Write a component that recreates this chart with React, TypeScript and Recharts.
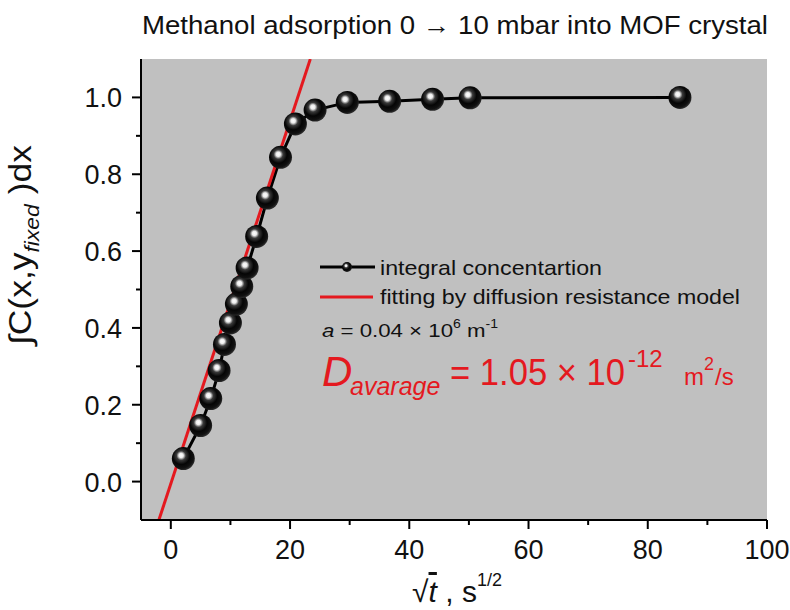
import React from "react";
import { ComposedChart, Line, XAxis, YAxis, CartesianGrid, Label } from "recharts";

if (typeof document !== "undefined") {
  document.body.style.margin = "0";
  document.body.style.overflow = "hidden";
}

// sqrt(t) in s^1/2 and the integral concentration
const sqrtT = [2.1, 5.0, 6.7, 8.1, 9.0, 10.0, 11.0, 11.9, 12.8, 14.4, 16.2, 18.4, 20.9, 24.2, 29.6, 36.7, 43.9, 50.2, 85.4];
const integral = [0.06, 0.146, 0.216, 0.289, 0.357, 0.413, 0.462, 0.508, 0.556, 0.638, 0.738, 0.844, 0.931, 0.967, 0.987, 0.99, 0.995, 0.999, 1.0];

// diffusion resistance model fit (straight line)
const fitX = [-2.0, 23.4];
const fitY = [-0.1, 1.1];

const xTicks = [0, 10, 20, 30, 40, 50, 60, 70, 80, 90, 100];
const yTicks = [0, 0.1, 0.2, 0.3, 0.4, 0.5, 0.6, 0.7, 0.8, 0.9, 1.0];

const points = sqrtT.map((x, i) => ({ x, y: integral[i] }));
const fit = fitX.map((x, i) => ({ x, y: fitY[i] }));

const FONT = "'Liberation Sans', Arial, sans-serif";
const RED = "#e4191f";

function makeTick(side: "bottom" | "top" | "left" | "right", label: boolean) {
  return (props: any) => {
    const { x, y, payload } = props;
    const v = payload.value;
    const horiz = side === "bottom" || side === "top";
    const major = horiz ? v % 20 === 0 : Math.round(v * 10) % 2 === 0;
    const len = major ? 9 : 5;
    let line;
    if (side === "bottom" || side === "top") line = <line x1={x} x2={x} y1={y} y2={y + len} />;
    else line = <line x1={x - len} x2={x} y1={y} y2={y} />;
    return (
      <g stroke="#000" strokeWidth={2}>
        {line}
        {label && major && side === "bottom" && (
          <text x={x} y={y + 39} textAnchor="middle" fontSize={27} fontFamily={FONT} fill="#111" stroke="none">
            {v}
          </text>
        )}
        {label && major && side === "left" && (
          <text x={x - 19} y={y + 10} textAnchor="end" fontSize={27} fontFamily={FONT} fill="#111" stroke="none">
            {v.toFixed(1)}
          </text>
        )}
      </g>
    );
  };
}

function Sphere(props: any) {
  const { cx, cy, index } = props;
  if (cx == null || cy == null) return null;
  return <circle key={index} cx={cx} cy={cy} r={11.5} fill="url(#sphere)" />;
}

function YTitle(props: any) {
  const vb = props.viewBox;
  const cx = vb.x + 31;
  const cy = 245;
  return (
    <text
      x={cx}
      y={cy}
      transform={`rotate(-90 ${cx} ${cy})`}
      textAnchor="middle"
      fontFamily={FONT}
      fontSize={31}
      fill="#111"
      textLength={200}
      lengthAdjust="spacingAndGlyphs"
    >
      ∫C(x,y
      <tspan fontSize={20} fontStyle="italic" dy={8}>fixed</tspan>
      <tspan dy={-8}> )dx</tspan>
    </text>
  );
}

function XTitle(props: any) {
  const vb = props.viewBox;
  const cx = vb.x + vb.width / 2 + 3;
  return (
    <text x={cx} y={602} textAnchor="middle" fontFamily={FONT} fontSize={30} fill="#111">
      √<tspan fontStyle="italic" style={{ textDecoration: "overline" }}>t</tspan>
      <tspan> , s</tspan>
      <tspan fontSize={18} dy={-16}>1/2</tspan>
    </text>
  );
}

export default function App() {
  return (
    <div style={{ position: "relative", width: 790, height: 610, background: "#fff" }}>
      <svg width={0} height={0} style={{ position: "absolute" }}>
        <defs>
          <radialGradient id="sphere" cx="0.42" cy="0.4" r="0.6" fx="0.4" fy="0.36">
            <stop offset="0%" stopColor="#ffffff" />
            <stop offset="16%" stopColor="#ececec" />
            <stop offset="34%" stopColor="#3a3a3a" />
            <stop offset="62%" stopColor="#050505" />
            <stop offset="88%" stopColor="#111111" />
            <stop offset="100%" stopColor="#2a2a2a" />
          </radialGradient>
        </defs>
      </svg>
      <ComposedChart width={790} height={610} margin={{ top: 59, right: 23, bottom: 0, left: 0 }}>
        <CartesianGrid horizontal={false} vertical={false} fill="#c0c0c0" />
        <XAxis
          xAxisId="b"
          type="number"
          dataKey="x"
          domain={[-5, 100]}
          ticks={xTicks}
          interval={0}
          allowDataOverflow
          height={90}
          tickSize={0}
          tickMargin={0}
          tickLine={false}
          tick={makeTick("bottom", true)}
          axisLine={{ stroke: "#000", strokeWidth: 2 }}
        >
          <Label content={<XTitle />} />
        </XAxis>
        <XAxis
          xAxisId="t"
          orientation="top"
          type="number"
          dataKey="x"
          domain={[-5, 100]}
          ticks={xTicks}
          interval={0}
          allowDataOverflow
          height={0}
          tickSize={0}
          tickMargin={0}
          tickLine={false}
          tick={makeTick("top", false)}
          axisLine={{ stroke: "#000", strokeWidth: 2 }}
        />
        <YAxis
          yAxisId="l"
          type="number"
          domain={[-0.1, 1.1]}
          ticks={yTicks}
          interval={0}
          allowDataOverflow
          width={141}
          tickSize={0}
          tickMargin={0}
          tickLine={false}
          tick={makeTick("left", true)}
          axisLine={{ stroke: "#000", strokeWidth: 2 }}
        >
          <Label content={<YTitle />} />
        </YAxis>
        <YAxis
          yAxisId="r"
          orientation="right"
          type="number"
          domain={[-0.1, 1.1]}
          ticks={yTicks}
          interval={0}
          allowDataOverflow
          width={0}
          tickSize={0}
          tickMargin={0}
          tickLine={false}
          tick={makeTick("right", false)}
          axisLine={{ stroke: "#000", strokeWidth: 2 }}
        />
        <Line
          xAxisId="b"
          yAxisId="l"
          data={points}
          dataKey="y"
          type="linear"
          stroke="#000"
          strokeWidth={3}
          dot={<Sphere />}
          activeDot={false}
          isAnimationActive={false}
        />
        <Line
          xAxisId="b"
          yAxisId="l"
          data={fit}
          dataKey="y"
          type="linear"
          stroke={RED}
          strokeWidth={3}
          dot={false}
          activeDot={false}
          isAnimationActive={false}
        />
      </ComposedChart>
      <svg
        width={790}
        height={610}
        style={{ position: "absolute", left: 0, top: 0, pointerEvents: "none" }}
        fontFamily={FONT}
      >
        <text x={142} y={34} fontSize={25} fill="#111" textLength={626} lengthAdjust="spacingAndGlyphs">
          Methanol adsorption 0 → 10 mbar into  MOF crystal
        </text>
        {/* legend */}
        <line x1={320} x2={375} y1={267} y2={267} stroke="#000" strokeWidth={3} />
        <circle cx={347} cy={267} r={5} fill="url(#sphere)" />
        <text x={380} y={275} fontSize={21} fill="#111" textLength={222} lengthAdjust="spacingAndGlyphs">
          integral concentartion
        </text>
        <line x1={320} x2={373} y1={297} y2={297} stroke={RED} strokeWidth={3} />
        <text x={380} y={304} fontSize={21} fill="#111" textLength={360} lengthAdjust="spacingAndGlyphs">
          fitting by diffusion resistance model
        </text>
        <text x={322} y={337} fontSize={19} fill="#111" textLength={176} lengthAdjust="spacingAndGlyphs">
          <tspan fontStyle="italic">a</tspan> = 0.04 × 10
          <tspan fontSize={12} dy={-9}>6</tspan>
          <tspan dy={9}> m</tspan>
          <tspan fontSize={12} dy={-9}>-1</tspan>
        </text>
        <g fill={RED}>
          <text x={322} y={386} fontSize={42} fontStyle="italic">D</text>
          <text x={350} y={395} fontSize={25} fontStyle="italic">avarage</text>
          <text x={450} y={385} fontSize={36} textLength={175} lengthAdjust="spacingAndGlyphs">= 1.05 × 10</text>
          <text x={628} y={367} fontSize={24}>-12</text>
          <text x={684} y={385} fontSize={24}>m</text>
          <text x={704} y={370} fontSize={18}>2</text>
          <text x={715} y={385} fontSize={24}>/s</text>
        </g>
      </svg>
    </div>
  );
}
